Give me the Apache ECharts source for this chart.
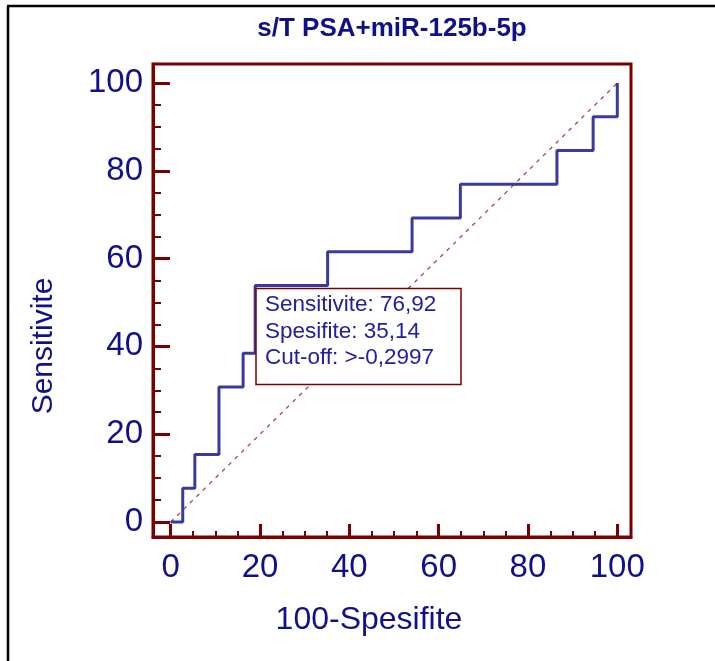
<!DOCTYPE html>
<html><head><meta charset="utf-8">
<script src="https://cdn.jsdelivr.net/npm/echarts@6/dist/echarts.min.js"></script>
<style>html,body{margin:0;padding:0;background:#fff}#c{width:715px;height:661px}</style>
</head><body><div id="c"></div>
<script>
const titleText = 's/T PSA+miR-125b-5p';
const xName = '100-Spesifite';
const yName = 'Sensitivite';
// ROC vertices (100-Specificity, Sensitivity)
const fpr = [0, 2.70, 5.41, 10.81, 16.22, 18.92, 35.14, 54.05, 64.86, 86.49, 94.59, 100];
const tpr = [0, 7.69, 15.38, 30.77, 38.46, 53.85, 61.54, 69.23, 76.92, 84.62, 92.31, 100];
const refX = [0, 100];
const refY = [0, 100];
const majorTicks = [0, 20, 40, 60, 80, 100];
const minorTicks = [5, 10, 15, 25, 30, 35, 45, 50, 55, 65, 70, 75, 85, 90, 95];
const boxLines = ['Sensitivite: 76,92', 'Spesifite: 35,14', 'Cut-off: >-0,2997'];

const FRAME = '#7a0000';
const NAVY = '#10108a';
const FONT = '"Liberation Sans", Arial, sans-serif';

function axisPair(dim, min, max, majorLen, minorLen, margin) {
  const pos = dim === 'x' ? 'bottom' : 'left';
  return [
    { type: 'value', min: min, max: max, position: pos, offset: 0,
      axisLine: { show: true, onZero: false, lineStyle: { color: FRAME, width: 3 } },
      axisTick: { show: true, inside: true, length: majorLen, customValues: majorTicks, lineStyle: { color: FRAME, width: 3 } },
      splitLine: { show: false },
      axisLabel: { customValues: majorTicks, color: NAVY, fontSize: 33, margin: margin, fontFamily: FONT } },
    { type: 'value', min: min, max: max, position: pos, offset: 0,
      axisLine: { show: false, onZero: false },
      axisTick: { show: true, inside: true, length: minorLen, customValues: minorTicks, lineStyle: { color: FRAME, width: 2 } },
      splitLine: { show: false },
      axisLabel: { show: false } }
  ];
}

const chart = echarts.init(document.getElementById('c'));
const option = {
  backgroundColor: '#fff',
  animation: false,
  title: {
    text: titleText, left: 392, top: 16, textAlign: 'center', padding: 0,
    textStyle: { color: NAVY, fontSize: 26, fontWeight: 'bold', fontFamily: FONT }
  },
  grid: { left: 153, top: 64, width: 478, height: 473, show: true, borderColor: FRAME, borderWidth: 3, backgroundColor: 'transparent' },
  xAxis: axisPair('x', -3.96, 103.07, 13, 6, 14),
  yAxis: axisPair('y', -3.42, 104.33, 17, 8, 10),
  series: [
    { type: 'line', data: refX.map((x, i) => [x, refY[i]]),
      symbol: 'none', silent: true,
      lineStyle: { color: '#a84848', width: 1.3, type: [4, 5] } },
    { type: 'line', data: fpr.map((x, i) => [x, tpr[i]]),
      step: 'end', symbol: 'none',
      lineStyle: { color: '#3a3a9e', width: 3 } }
  ],
  graphic: [
    { type: 'line', shape: { x1: 7, y1: 6, x2: 715, y2: 6 }, style: { stroke: '#000', lineWidth: 2.5 } },
    { type: 'line', shape: { x1: 8, y1: 6, x2: 8, y2: 661 }, style: { stroke: '#000', lineWidth: 2.5 } },
    { type: 'text', x: 44, y: 346, rotation: Math.PI / 2,
      style: { text: yName, fill: NAVY, font: '30px ' + FONT, textAlign: 'center', textVerticalAlign: 'middle' } },
    { type: 'text', x: 369, y: 620,
      style: { text: xName, fill: NAVY, font: '32px ' + FONT, textAlign: 'center', textVerticalAlign: 'middle' } },
    { type: 'rect', shape: { x: 256, y: 288.5, width: 205, height: 96 },
      style: { fill: '#fff', stroke: FRAME, lineWidth: 1.5 }, z: 100 },
    { type: 'text', x: 265, y: 305, z: 101,
      style: { text: boxLines[0], fill: '#2020a0', font: '22.5px ' + FONT, textVerticalAlign: 'middle' } },
    { type: 'text', x: 265, y: 331.5, z: 101,
      style: { text: boxLines[1], fill: '#2020a0', font: '22.5px ' + FONT, textVerticalAlign: 'middle' } },
    { type: 'text', x: 265, y: 358, z: 101,
      style: { text: boxLines[2], fill: '#2020a0', font: '22.5px ' + FONT, textVerticalAlign: 'middle' } }
  ]
};
chart.setOption(option);
</script></body></html>
